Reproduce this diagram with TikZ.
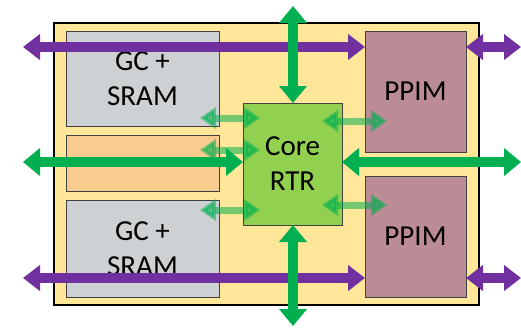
\documentclass[tikz,border=0pt]{standalone}
\usepackage{fontspec}
\setmainfont{Carlito}
\usetikzlibrary{arrows.meta}
\definecolor{chipbg}{HTML}{FFE699}
\definecolor{gcgray}{HTML}{CDD1D3}
\definecolor{bufor}{HTML}{F8CB8F}
\definecolor{rtrgreen}{HTML}{92D050}
\definecolor{ppimrose}{HTML}{BC8C96}
\definecolor{buspurple}{HTML}{7030A0}
\definecolor{busgreen}{HTML}{00B050}
\tikzset{
  blk/.style={draw=black!75,line width=0.8pt,inner sep=0pt,outer sep=0pt,align=center,
    font=\fontsize{29}{35}\selectfont},
  pbus/.style={draw=buspurple,line width=10pt,{Triangle[width=25pt,length=17pt]}-{Triangle[width=25pt,length=17pt]}},
  gbus/.style={draw=busgreen,line width=10pt,{Triangle[width=27pt,length=17pt]}-{Triangle[width=27pt,length=17pt]}},
  lnk/.style={draw=busgreen,opacity=0.55,line width=7pt,{Triangle[width=21pt,length=16pt]}-{Triangle[width=21pt,length=16pt]}}
}
\begin{document}
\begin{tikzpicture}[x=1pt,y=-1pt]
\useasboundingbox (0,0) rectangle (521,327);
\node[draw=black,line width=2pt,fill=chipbg,minimum width=425pt,minimum height=282pt,inner sep=0pt] (chip) at (266.5,164) {};
\node[blk,fill=gcgray,minimum width=153pt,minimum height=95pt] (gc1) at (142.5,78.5) {GC +\\SRAM};
\node[blk,fill=bufor,minimum width=153pt,minimum height=56pt] (buf) at (142.5,163) {};
\node[blk,fill=gcgray,minimum width=153pt,minimum height=97pt] (gc2) at (142.5,248.5) {GC +\\SRAM};
\node[blk,fill=rtrgreen,minimum width=99pt,minimum height=122pt] (rtr) at (292.5,164) {Core\\RTR};
\node[blk,fill=ppimrose,minimum width=101pt,minimum height=121pt] (ppim1) at (415.5,91.5) {PPIM};
\node[blk,fill=ppimrose,minimum width=101pt,minimum height=121pt] (ppim2) at (415.5,236.5) {PPIM};
% free ends at the page edges
\coordinate (pl1) at (23,47);
\coordinate (pr1) at (521,47);
\coordinate (pl2) at (23,278);
\coordinate (pr2) at (521,278);
\coordinate (gl) at (23,162);
\coordinate (gr) at (521,162);
\coordinate (gt) at (293,6);
\coordinate (gb) at (293,326);
% purple buses
\draw[pbus] (pl1) -- (pl1 -| ppim1.west);
\draw[pbus] (pr1 -| ppim1.east) -- (pr1);
\draw[pbus] (pl2) -- (pl2 -| ppim2.west);
\draw[pbus] (pr2 -| ppim2.east) -- (pr2);
% green buses
\draw[gbus] (gl) -- (gl -| rtr.west);
\draw[gbus] (gr -| rtr.east) -- (gr);
\draw[gbus] (gt) -- (gt |- rtr.north);
\draw[gbus] (gt |- rtr.south) -- (gb);
% links to the router
\foreach \yy in {118,150,210}
  \draw[lnk] (200,\yy) -- (260,\yy);
\foreach \yy in {121,205}
  \draw[lnk] (322,\yy) -- (387,\yy);
\end{tikzpicture}
\end{document}
